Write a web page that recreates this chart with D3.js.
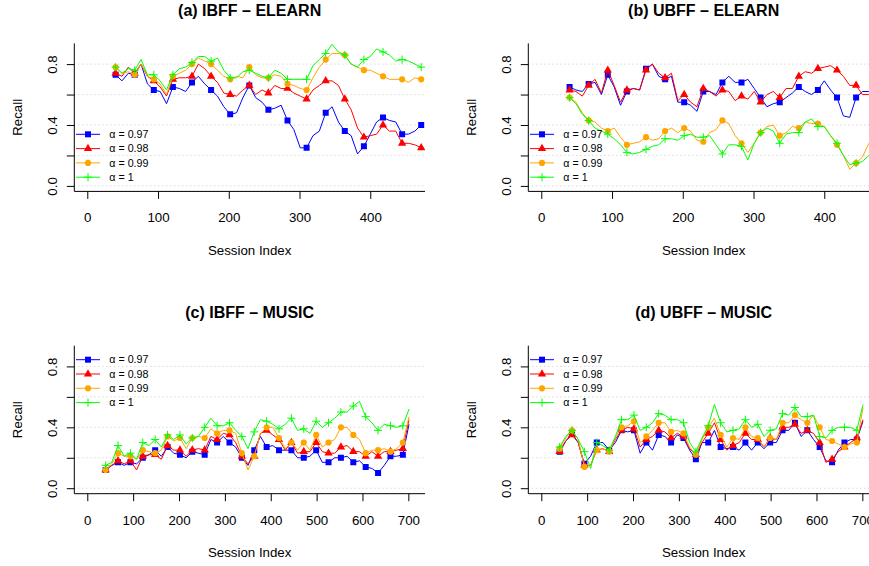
<!DOCTYPE html>
<html>
<head>
<meta charset="utf-8">
<script src="https://cdn.jsdelivr.net/npm/d3@7"></script>
<style>
body { margin: 0; background: #fff; }
svg { display: block; }
text { font-family: "Liberation Sans", Arial, sans-serif; fill: #000; }
</style>
</head>
<body>
<svg width="869" height="566"></svg>
<script>
var svg = d3.select("svg");

// session indices (x values) for each data set
var sessionsElearn = d3.range(49).map(function (i) { return 40 + 9 * i; });
var sessionsMusic = d3.range(50).map(function (i) { return 40 + 13.5 * i; });

var alphaLabels = ["\u03b1 = 0.97", "\u03b1 = 0.98", "\u03b1 = 0.99", "\u03b1 = 1"];
var yTicks = [0, 0.2, 0.4, 0.6, 0.8];
var yTickLabels = ["0.0", "", "0.4", "", "0.8"];
var xTicksElearn = [0, 100, 200, 300, 400];
var xTicksMusic = [0, 100, 200, 300, 400, 500, 600, 700];

// (a) IBFF - ELEARN
var ibffElearn097 = [0.73,0.69,0.74,0.73,0.80,0.67,0.63,0.62,0.54,0.65,0.64,0.62,0.68,0.72,0.67,0.63,0.59,0.52,0.47,0.48,0.58,0.66,0.58,0.55,0.50,0.51,0.53,0.43,0.37,0.25,0.25,0.33,0.36,0.48,0.52,0.42,0.36,0.33,0.21,0.26,0.34,0.42,0.45,0.43,0.42,0.34,0.34,0.36,0.40];
var ibffElearn098 = [0.74,0.72,0.78,0.74,0.80,0.72,0.69,0.65,0.59,0.70,0.71,0.71,0.72,0.80,0.77,0.72,0.68,0.61,0.60,0.59,0.63,0.66,0.60,0.63,0.61,0.66,0.64,0.64,0.61,0.59,0.57,0.63,0.66,0.69,0.69,0.66,0.57,0.50,0.38,0.32,0.33,0.34,0.40,0.36,0.36,0.28,0.28,0.27,0.25];
var ibffElearn099 = [0.78,0.74,0.75,0.73,0.80,0.72,0.70,0.67,0.60,0.72,0.74,0.76,0.80,0.84,0.82,0.80,0.76,0.72,0.70,0.72,0.71,0.78,0.73,0.71,0.71,0.73,0.72,0.67,0.66,0.64,0.63,0.71,0.78,0.83,0.87,0.87,0.86,0.80,0.78,0.76,0.76,0.74,0.72,0.70,0.70,0.70,0.68,0.71,0.70];
var ibffElearn1 = [0.78,0.74,0.77,0.76,0.83,0.73,0.73,0.69,0.63,0.73,0.77,0.78,0.81,0.85,0.85,0.82,0.84,0.76,0.71,0.71,0.75,0.76,0.74,0.72,0.71,0.76,0.74,0.70,0.70,0.70,0.70,0.79,0.83,0.87,0.93,0.88,0.86,0.80,0.78,0.83,0.85,0.90,0.88,0.86,0.82,0.83,0.82,0.80,0.78];

// (b) UBFF - ELEARN
var ubffElearn097 = [0.65,0.63,0.62,0.67,0.68,0.60,0.73,0.65,0.53,0.62,0.64,0.63,0.77,0.80,0.72,0.70,0.72,0.55,0.55,0.53,0.49,0.62,0.62,0.60,0.68,0.72,0.68,0.68,0.70,0.64,0.58,0.52,0.54,0.55,0.58,0.61,0.65,0.62,0.60,0.63,0.69,0.63,0.58,0.46,0.45,0.58,0.62,0.62,0.62];
var ubffElearn098 = [0.63,0.62,0.59,0.66,0.70,0.61,0.76,0.66,0.55,0.63,0.64,0.63,0.76,0.80,0.74,0.71,0.74,0.56,0.60,0.55,0.52,0.64,0.62,0.59,0.63,0.62,0.56,0.59,0.57,0.62,0.55,0.60,0.62,0.58,0.64,0.64,0.72,0.75,0.74,0.77,0.78,0.79,0.76,0.72,0.66,0.66,0.60,0.60,0.60];
var ubffElearn099 = [0.58,0.55,0.48,0.43,0.42,0.38,0.36,0.38,0.32,0.27,0.28,0.29,0.32,0.30,0.31,0.36,0.38,0.35,0.38,0.36,0.30,0.29,0.35,0.37,0.43,0.41,0.33,0.28,0.22,0.28,0.35,0.39,0.40,0.33,0.35,0.39,0.38,0.42,0.41,0.41,0.39,0.33,0.27,0.20,0.11,0.15,0.19,0.28,0.30];
var ubffElearn1 = [0.58,0.54,0.47,0.43,0.38,0.36,0.34,0.31,0.27,0.22,0.21,0.22,0.24,0.26,0.27,0.31,0.31,0.30,0.33,0.34,0.32,0.32,0.33,0.27,0.21,0.27,0.27,0.26,0.17,0.28,0.35,0.38,0.36,0.28,0.34,0.35,0.35,0.42,0.44,0.39,0.39,0.33,0.28,0.20,0.14,0.15,0.16,0.20,0.21];

// (c) IBFF - MUSIC
var ibffMusic097 = [0.12,0.15,0.17,0.15,0.17,0.16,0.20,0.22,0.25,0.21,0.27,0.23,0.22,0.20,0.24,0.23,0.22,0.32,0.30,0.34,0.30,0.27,0.20,0.15,0.25,0.34,0.27,0.28,0.25,0.25,0.25,0.20,0.20,0.21,0.25,0.17,0.17,0.20,0.20,0.21,0.17,0.18,0.14,0.13,0.10,0.15,0.21,0.21,0.22,0.42];
var ibffMusic098 = [0.12,0.15,0.18,0.16,0.18,0.12,0.21,0.22,0.22,0.19,0.28,0.25,0.25,0.21,0.25,0.26,0.25,0.34,0.32,0.36,0.35,0.30,0.21,0.16,0.21,0.36,0.38,0.35,0.32,0.25,0.30,0.23,0.24,0.24,0.30,0.24,0.23,0.23,0.27,0.28,0.24,0.24,0.21,0.24,0.21,0.24,0.24,0.25,0.26,0.45];
var ibffMusic099 = [0.12,0.16,0.23,0.21,0.21,0.19,0.25,0.24,0.23,0.25,0.34,0.31,0.33,0.26,0.33,0.34,0.33,0.39,0.36,0.38,0.38,0.36,0.23,0.12,0.21,0.36,0.40,0.40,0.33,0.26,0.30,0.25,0.30,0.25,0.35,0.27,0.30,0.32,0.40,0.40,0.35,0.32,0.23,0.25,0.25,0.26,0.24,0.26,0.30,0.47];
var ibffMusic1 = [0.15,0.17,0.28,0.21,0.23,0.19,0.30,0.28,0.32,0.27,0.35,0.32,0.35,0.29,0.33,0.34,0.40,0.46,0.41,0.41,0.43,0.38,0.34,0.26,0.37,0.45,0.44,0.42,0.39,0.42,0.46,0.38,0.39,0.36,0.44,0.40,0.43,0.46,0.50,0.50,0.54,0.57,0.47,0.43,0.38,0.42,0.41,0.40,0.41,0.52];

// (d) UBFF - MUSIC
var ubffMusic097 = [0.24,0.31,0.36,0.30,0.16,0.21,0.30,0.30,0.25,0.30,0.38,0.37,0.38,0.23,0.30,0.25,0.35,0.34,0.30,0.35,0.33,0.25,0.19,0.30,0.30,0.38,0.27,0.26,0.27,0.25,0.30,0.25,0.30,0.26,0.30,0.30,0.38,0.38,0.43,0.34,0.38,0.32,0.27,0.18,0.17,0.25,0.30,0.32,0.32,0.44];
var ubffMusic098 = [0.24,0.31,0.35,0.30,0.15,0.15,0.25,0.26,0.24,0.32,0.38,0.40,0.39,0.27,0.32,0.34,0.38,0.37,0.33,0.36,0.34,0.26,0.22,0.30,0.36,0.43,0.32,0.25,0.28,0.30,0.36,0.32,0.32,0.27,0.33,0.32,0.40,0.40,0.42,0.36,0.38,0.36,0.30,0.17,0.19,0.24,0.27,0.30,0.33,0.45];
var ubffMusic099 = [0.26,0.33,0.38,0.32,0.14,0.15,0.25,0.26,0.24,0.33,0.40,0.41,0.44,0.30,0.34,0.38,0.43,0.43,0.37,0.38,0.36,0.27,0.22,0.32,0.40,0.46,0.35,0.27,0.33,0.32,0.40,0.34,0.33,0.27,0.33,0.32,0.43,0.43,0.48,0.45,0.43,0.48,0.40,0.32,0.31,0.29,0.27,0.29,0.30,0.53];
var ubffMusic1 = [0.27,0.34,0.38,0.32,0.24,0.13,0.30,0.28,0.25,0.34,0.45,0.45,0.48,0.38,0.40,0.43,0.49,0.48,0.45,0.45,0.43,0.30,0.24,0.33,0.41,0.55,0.43,0.37,0.38,0.39,0.45,0.40,0.42,0.34,0.38,0.39,0.49,0.48,0.53,0.47,0.47,0.48,0.34,0.33,0.38,0.40,0.40,0.40,0.38,0.55];

var colors = ["#0000ff", "#ff0000", "#ffa500", "#00ff00"];
var shapes = ["square", "triangle", "circle", "plus"];

var panels = [
  { title: "(a) IBFF \u2013 ELEARN", col: 0, row: 0, xs: sessionsElearn, xmax: 459, xTicks: xTicksElearn,
    series: [ibffElearn097, ibffElearn098, ibffElearn099, ibffElearn1], markEvery: 3, legend: "bottom" },
  { title: "(b) UBFF \u2013 ELEARN", col: 1, row: 0, xs: sessionsElearn, xmax: 459, xTicks: xTicksElearn,
    series: [ubffElearn097, ubffElearn098, ubffElearn099, ubffElearn1], markEvery: 3, legend: "bottom" },
  { title: "(c) IBFF \u2013 MUSIC", col: 0, row: 1, xs: sessionsMusic, xmax: 708, xTicks: xTicksMusic,
    series: [ibffMusic097, ibffMusic098, ibffMusic099, ibffMusic1], markEvery: 2, legend: "top" },
  { title: "(d) UBFF \u2013 MUSIC", col: 1, row: 1, xs: sessionsMusic, xmax: 708, xTicks: xTicksMusic,
    series: [ubffMusic097, ubffMusic098, ubffMusic099, ubffMusic1], markEvery: 2, legend: "top" }
];

var plotW = 350.7, plotH = 148;
var colX = [74.3, 528.3], rowY = [43.4, 345.7];

// draws one marker of the given shape inside selection sel
function marker(sel, shape, color) {
  if (shape === "plus") {
    sel.append("path").attr("d", "M-4,0H4M0,-4V4")
      .attr("stroke", color).attr("stroke-width", 1).attr("fill", "none");
  } else {
    var type = shape === "square" ? d3.symbolSquare : shape === "triangle" ? d3.symbolTriangle : d3.symbolCircle;
    var size = shape === "square" ? 36 : shape === "triangle" ? 30 : 30;
    sel.append("path").attr("d", d3.symbol().type(type).size(size)()).attr("fill", color);
  }
}

panels.forEach(function (p, pi) {
  var g = svg.append("g").attr("transform", "translate(" + colX[p.col] + "," + rowY[p.row] + ")");
  var pad = 0.04 * p.xmax;
  var x = d3.scaleLinear().domain([-pad, p.xmax + pad]).range([0, plotW]);
  var y = d3.scaleLinear().domain([-0.036, 0.936]).range([plotH, 0]);

  svg.append("clipPath").attr("id", "clip" + pi)
    .append("rect").attr("width", plotW).attr("height", plotH);

  // dotted grid
  g.selectAll(".grid").data(yTicks).enter().append("line")
    .attr("class", "grid")
    .attr("x1", 0).attr("x2", plotW)
    .attr("y1", function (d) { return y(d); })
    .attr("y2", function (d) { return y(d); })
    .attr("stroke", "#c8c8c8").attr("stroke-dasharray", "1,3");

  var plot = g.append("g").attr("clip-path", "url(#clip" + pi + ")");
  var line = d3.line()
    .x(function (d, i) { return x(p.xs[i]); })
    .y(function (d) { return y(d); });

  p.series.forEach(function (vals, si) {
    plot.append("path").datum(vals)
      .attr("d", line)
      .attr("fill", "none").attr("stroke", colors[si]).attr("stroke-width", 1);
    plot.selectAll(".m" + si)
      .data(vals.map(function (v, i) { return [p.xs[i], v]; }).filter(function (d, i) { return i % p.markEvery === 0; }))
      .enter().append("g")
      .attr("class", "m" + si)
      .attr("transform", function (d) { return "translate(" + x(d[0]) + "," + y(d[1]) + ")"; })
      .each(function () { marker(d3.select(this), shapes[si], colors[si]); });
  });

  // x axis
  var xaxis = g.append("g").attr("transform", "translate(0," + plotH + ")")
    .call(d3.axisBottom(x).tickValues(p.xTicks).tickSize(7.5).tickPadding(14).tickFormat(d3.format("d")));
  xaxis.select(".domain").remove();
  xaxis.selectAll("text").attr("font-size", "13.3px").attr("font-family", null);

  // y axis
  var yaxis = g.append("g")
    .call(d3.axisLeft(y).tickValues(yTicks).tickSize(7.5)
      .tickFormat(function (d, i) { return yTickLabels[i]; }));
  yaxis.select(".domain").remove();
  yaxis.selectAll("text")
    .attr("x", 0).attr("dy", 0)
    .attr("text-anchor", "middle")
    .attr("transform", "translate(-17.8,0) rotate(-90)")
    .attr("font-size", "13.3px").attr("font-family", null);

  // L-shaped box
  g.append("path").attr("d", "M0,0V" + plotH + "H" + plotW)
    .attr("fill", "none").attr("stroke", "#000").attr("stroke-width", 1);

  g.append("text").attr("x", plotW / 2).attr("y", -27.9)
    .attr("text-anchor", "middle").attr("font-size", "16px").attr("font-weight", "bold")
    .text(p.title);

  g.append("text").attr("x", plotW / 2).attr("y", 211.6)
    .attr("text-anchor", "middle").attr("font-size", "13.3px")
    .text("Session Index");

  g.append("text").attr("transform", "translate(-52.8," + (plotH / 2) + ") rotate(-90)")
    .attr("text-anchor", "middle").attr("font-size", "13.3px")
    .text("Recall");

  // legend
  var ly0 = p.legend === "bottom" ? 90.9 : 14;
  var legend = g.selectAll(".leg").data(alphaLabels).enter().append("g")
    .attr("class", "leg")
    .attr("transform", function (d, i) { return "translate(0," + (ly0 + 14.3 * i) + ")"; });
  legend.append("line").attr("x1", 1.7).attr("x2", 25.7)
    .attr("stroke", function (d, i) { return colors[i]; }).attr("stroke-width", 1);
  legend.each(function (d, i) {
    var m = d3.select(this).append("g").attr("transform", "translate(13.7,0)");
    marker(m, shapes[i], colors[i]);
  });
  legend.append("text").attr("x", 35).attr("dy", "0.35em")
    .attr("font-size", "10.7px")
    .text(function (d) { return d; });
});
</script>
</body>
</html>
